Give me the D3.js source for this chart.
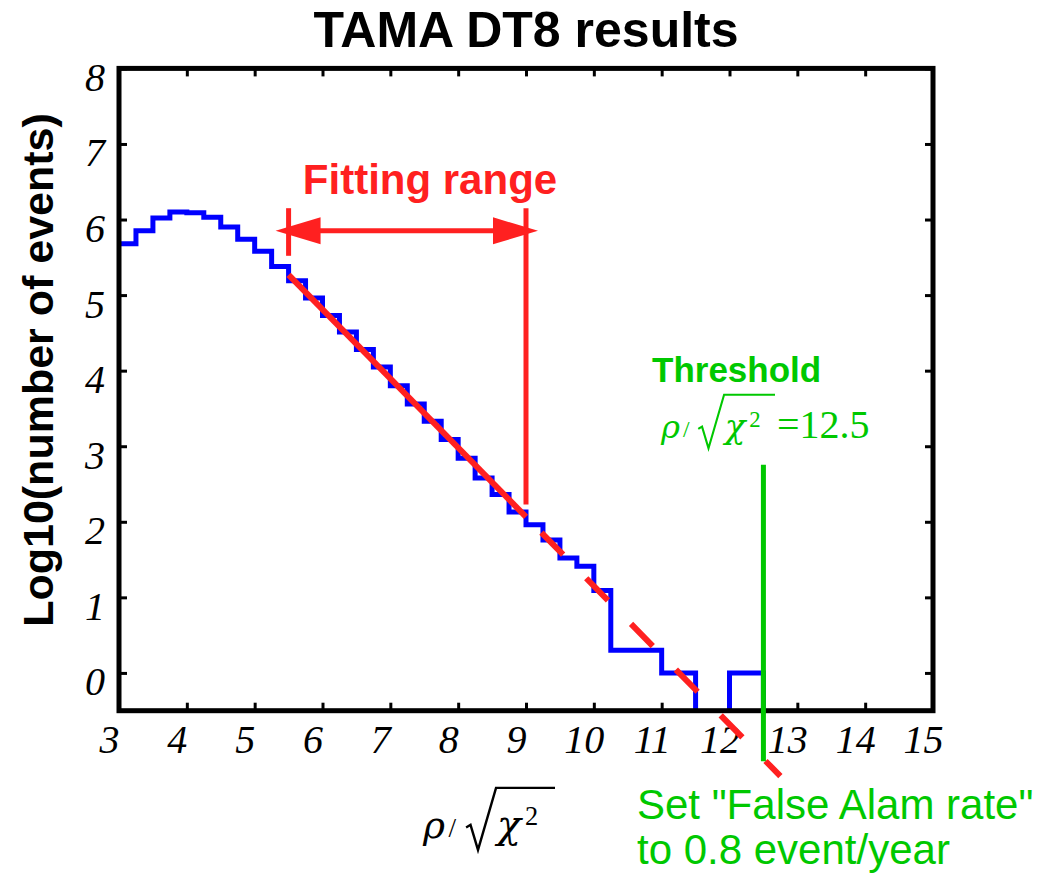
<!DOCTYPE html>
<html>
<head>
<meta charset="utf-8">
<script src="https://cdn.jsdelivr.net/npm/d3@7"></script>
<style>
  body { margin: 0; background: #fff; }
  svg { display: block; }
</style>
</head>
<body>
<script>
// histogram bins: left edges start at 3, width 0.25
const binStart = 3;
const binWidth = 0.25;
// log10(number of events) per bin, null = empty bin
const logCounts = [
  5.68, 5.85, 6.02, 6.10, 6.09, 6.03, 5.90, 5.74, 5.58, 5.38,
  5.19, 4.96, 4.73, 4.51, 4.28, 4.05, 3.80, 3.56, 3.33, 3.09,
  2.84, 2.58, 2.36, 2.13, 1.96, 1.76, 1.52, 1.41, 1.09, 0.30,
  0.30, 0.30, 0.00, 0.00, null, null, 0.00, 0.00
];
const xTicks = [3, 4, 5, 6, 7, 8, 9, 10, 11, 12, 13, 14, 15];
const yTicks = [0, 1, 2, 3, 4, 5, 6, 7, 8];
// linear fit  log10(N) = fitIntercept + fitSlope * x
const fitIntercept = 10.30;
const fitSlope = -0.915;
const fitRange = [5.5, 9.0];
const fitExtrapEnd = 12.75;
const threshold = 12.5;

const W = 1060, H = 873;
const BLUE = "#0000ff", RED = "#ff2020", GREEN = "#00c800";
const SANS = "'Liberation Sans', Arial, sans-serif";
const SERIF = "'Liberation Serif', 'Times New Roman', serif";
const GREEK = "'DejaVu Serif', serif";

const svg = d3.select("body").append("svg")
    .attr("width", W).attr("height", H);

const x = d3.scaleLinear().domain([3, 15]).range([119, 933]);
const y = d3.scaleLinear().domain([-0.5, 8]).range([710.7, 68.4]);

// clip for the histogram, the frame hides the empty bins
svg.append("defs").append("clipPath").attr("id", "plot-clip")
    .append("rect")
    .attr("x", x.range()[0]).attr("y", y.range()[1])
    .attr("width", x.range()[1] - x.range()[0])
    .attr("height", y.range()[0] - y.range()[1]);

// title
svg.append("text")
    .attr("x", 526).attr("y", 47)
    .attr("text-anchor", "middle")
    .style("font-family", SANS).style("font-weight", "bold")
    .style("font-size", "50px")
    .text("TAMA DT8 results");

// axes: ticks point inwards on all four sides
const axes = svg.append("g").attr("class", "axes");

const bottom = axes.append("g")
    .attr("transform", `translate(0,${y.range()[0]})`)
    .call(d3.axisBottom(x).tickValues(xTicks).tickSize(-8).tickFormat(d3.format("d")));
bottom.selectAll("text")
    .attr("y", 42).attr("dy", 0).attr("dx", -10)
    .style("font-family", SERIF).style("font-style", "italic")
    .style("font-size", "40px").attr("fill", "#000");

axes.append("g")
    .attr("transform", `translate(0,${y.range()[1]})`)
    .call(d3.axisTop(x).tickValues(xTicks).tickSize(-8).tickFormat(""));

const left = axes.append("g")
    .attr("transform", `translate(${x.range()[0]},0)`)
    .call(d3.axisLeft(y).tickValues(yTicks).tickSize(-8).tickFormat(d3.format("d")));
left.selectAll("text")
    .attr("x", -14).attr("dy", 0).attr("y", 22)
    .style("font-family", SERIF).style("font-style", "italic")
    .style("font-size", "40px").attr("fill", "#000");

axes.append("g")
    .attr("transform", `translate(${x.range()[1]},0)`)
    .call(d3.axisRight(y).tickValues(yTicks).tickSize(-8).tickFormat(""));

axes.selectAll(".domain").remove();
axes.selectAll(".tick line").attr("stroke", "#000").attr("stroke-width", 3);

// y axis title
svg.append("text")
    .attr("transform", "translate(53,370) rotate(-90)")
    .attr("text-anchor", "middle")
    .style("font-family", SANS).style("font-weight", "bold")
    .style("font-size", "43px")
    .text("Log10(number of events)");

// histogram as a step line
const pts = logCounts.map((v, i) => [binStart + i * binWidth, v]);
const lastEdge = binStart + logCounts.length * binWidth;
pts.push([lastEdge, logCounts[logCounts.length - 1]]);
pts.push([lastEdge, null]);

const stepLine = d3.line()
    .curve(d3.curveStepAfter)
    .x(d => x(d[0]))
    .y(d => d[1] === null ? y(y.domain()[0]) + 4 : y(d[1]));

svg.append("path")
    .datum(pts)
    .attr("clip-path", "url(#plot-clip)")
    .attr("d", stepLine)
    .attr("fill", "none")
    .attr("stroke", BLUE)
    .attr("stroke-width", 5)
    .attr("stroke-linejoin", "miter");

// frame
svg.append("rect")
    .attr("x", x.range()[0]).attr("y", y.range()[1])
    .attr("width", x.range()[1] - x.range()[0])
    .attr("height", y.range()[0] - y.range()[1])
    .attr("fill", "none").attr("stroke", "#000").attr("stroke-width", 5);

// fit line: solid inside fitting range, dashed outside
const fitLine = d3.line()
    .x(d => x(d))
    .y(d => y(fitIntercept + fitSlope * d));

svg.append("path")
    .datum(fitRange)
    .attr("d", fitLine)
    .attr("stroke", RED).attr("stroke-width", 6).attr("fill", "none");

svg.append("path")
    .datum([fitRange[1], fitExtrapEnd])
    .attr("d", fitLine)
    .attr("stroke", RED).attr("stroke-width", 6).attr("fill", "none")
    .attr("stroke-dasharray", "31 33")
    .attr("stroke-dashoffset", 42);

// fitting range marker
const fr = svg.append("g").attr("class", "fitting-range");
const arrowY = y(5.85);
fr.append("line")
    .attr("x1", x(fitRange[0])).attr("x2", x(fitRange[0]))
    .attr("y1", y(6.15)).attr("y2", y(5.52))
    .attr("stroke", RED).attr("stroke-width", 5);
fr.append("line")
    .attr("x1", x(fitRange[1])).attr("x2", x(fitRange[1]))
    .attr("y1", y(6.15)).attr("y2", y(2.23))
    .attr("stroke", RED).attr("stroke-width", 5);
fr.append("line")
    .attr("x1", x(fitRange[0]) + 20).attr("x2", x(fitRange[1]) - 20)
    .attr("y1", arrowY).attr("y2", arrowY)
    .attr("stroke", RED).attr("stroke-width", 5);
// arrow heads
[[x(fitRange[0]) - 13, 1], [x(fitRange[1]) + 12, -1]].forEach(([tip, dir]) => {
    fr.append("path")
        .attr("d", `M${tip},${arrowY} L${tip + dir * 45},${arrowY - 13.5} L${tip + dir * 45},${arrowY + 13.5} Z`)
        .attr("fill", RED);
});
fr.append("text")
    .attr("x", 430).attr("y", 194)
    .attr("text-anchor", "middle")
    .style("font-family", SANS).style("font-weight", "bold")
    .style("font-size", "42px").attr("fill", RED)
    .text("Fitting range");

// rho / sqrt(chi^2) drawn with text + a radical path
function rhoOverSqrtChi(g, x0, base, s, color) {
    const t = g.append("g").attr("fill", color);
    t.append("text").attr("x", x0).attr("y", base)
        .style("font-family", GREEK).style("font-style", "italic")
        .style("font-size", (0.85 * s) + "px").text("ρ");
    t.append("text").attr("x", x0 + 0.58 * s).attr("y", base - 0.02 * s)
        .style("font-family", SERIF).style("font-size", (0.62 * s) + "px").text("/");
    g.append("path")
        .attr("d", `M${x0 + 0.98 * s},${base - 0.24 * s} L${x0 + 1.08 * s},${base - 0.3 * s}` +
                   ` L${x0 + 1.25 * s},${base + 0.27 * s} L${x0 + 1.66 * s},${base - 1.14 * s}` +
                   ` L${x0 + 3.0 * s},${base - 1.14 * s}`)
        .attr("fill", "none").attr("stroke", color).attr("stroke-width", 0.055 * s)
        .attr("stroke-linejoin", "miter");
    t.append("text").attr("x", x0 + 1.68 * s).attr("y", base)
        .style("font-family", GREEK).style("font-style", "italic")
        .style("font-size", (0.9 * s) + "px").text("χ");
    t.append("text").attr("x", x0 + 2.32 * s).attr("y", base - 0.3 * s)
        .style("font-family", SERIF).style("font-size", (0.6 * s) + "px").text("2");
}

// x axis title
rhoOverSqrtChi(svg, 423, 838, 44, "#000");

// threshold annotation
const th = svg.append("g").attr("class", "threshold");
th.append("line")
    .attr("x1", x(threshold)).attr("x2", x(threshold))
    .attr("y1", y(2.755)).attr("y2", y(-1.17))
    .attr("stroke", GREEN).attr("stroke-width", 5);
th.append("text")
    .attr("x", 652).attr("y", 382)
    .style("font-family", SANS).style("font-weight", "bold")
    .style("font-size", "35px").attr("fill", GREEN)
    .text("Threshold");
rhoOverSqrtChi(th, 661, 438, 38, GREEN);
th.append("text")
    .attr("x", 777).attr("y", 438)
    .style("font-family", SERIF).style("font-size", "40px").attr("fill", GREEN)
    .text("=" + threshold);

th.append("text")
    .attr("x", 637).attr("y", 819)
    .style("font-family", SANS).style("font-size", "42px").attr("fill", GREEN)
    .text('Set "False Alam rate"');
th.append("text")
    .attr("x", 637).attr("y", 864)
    .style("font-family", SANS).style("font-size", "42px").attr("fill", GREEN)
    .text("to 0.8 event/year");
</script>
</body>
</html>
